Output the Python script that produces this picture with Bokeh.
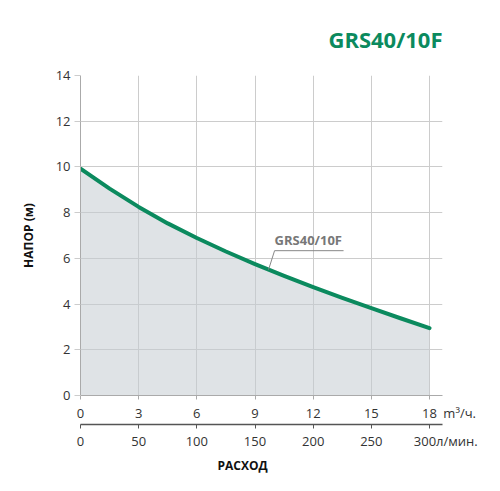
import numpy as np
from bokeh.plotting import figure
from bokeh.models import Range1d, LinearAxis, FixedTicker, Label, Title
from bokeh.embed import file_html
from bokeh.resources import INLINE

# Данные кривой насоса GRS40/10F
flow_m3h = [0, 1.5, 3, 4.5, 6, 7.5, 9, 10.5, 12, 13.5, 15, 16.5, 18]
head_m = [9.92, 9.05, 8.25, 7.53, 6.89, 6.30, 5.75, 5.23, 4.74, 4.27, 3.82, 3.38, 2.95]

x_ticks = [0, 3, 6, 9, 12, 15, 18]
lpm_ticks = [0, 50, 100, 150, 200, 250, 300]
y_ticks = [0, 2, 4, 6, 8, 10, 12, 14]

model_name = "GRS40/10F"
GREEN = "#0b8a5e"
FONT = "Open Sans"

x_max = 18.67
frame_w, frame_h = 362, 321
px_x = x_max / frame_w
px_y = 14 / frame_h

p = figure(width=492, height=483, output_backend="svg", toolbar_location=None,
           x_range=Range1d(0, x_max), y_range=Range1d(0, 14),
           x_axis_location=None, y_axis_location=None,
           min_border_left=80, min_border_right=50, min_border_top=74,
           min_border_bottom=88)
p.outline_line_color = None
p.extra_x_ranges = {"lpm": Range1d(0, x_max * 50 / 3)}

# заголовок
p.title.text = model_name
p.title.align = "right"
p.title.text_font = FONT
p.title.text_font_size = "22px"
p.title.text_font_style = "bold"
p.title.text_color = GREEN
p.title.standoff = 43

# оси
yax = LinearAxis(ticker=FixedTicker(ticks=y_ticks), axis_label="НАПОР (м)")
yax.axis_line_color = "#aaaaaa"
yax.major_tick_line_color = "#cccccc"
yax.major_tick_out = 6
yax.major_tick_in = 0
yax.minor_tick_line_color = None
yax.major_label_standoff = 4
yax.major_label_text_font = FONT
yax.major_label_text_font_size = "13px"
yax.major_label_text_color = "#333333"
yax.axis_label_text_font = FONT
yax.axis_label_text_font_size = "12px"
yax.axis_label_text_font_style = "bold"
yax.axis_label_text_color = "#111111"
yax.axis_label_standoff = 16
p.add_layout(yax, "left")

# единицы — в подписи последнего деления
xax = LinearAxis(ticker=FixedTicker(ticks=x_ticks))
xax.major_label_overrides = {18: "\u2003\u2003\u200318\u2002m³/ч."}
xax.axis_line_color = "#aaaaaa"
xax.major_tick_line_color = "#aaaaaa"
xax.major_tick_out = 4
xax.major_tick_in = 0
xax.minor_tick_line_color = None
xax.major_label_standoff = 4
xax.major_label_text_font = FONT
xax.major_label_text_font_size = "13px"
xax.major_label_text_color = "#333333"
p.add_layout(xax, "below")

lax = LinearAxis(x_range_name="lpm", ticker=FixedTicker(ticks=lpm_ticks))
lax.major_label_overrides = {300: "\u2003\u2003\u2002300л/мин."}
lax.axis_line_color = "#555555"
lax.axis_line_width = 1.5
lax.major_tick_line_color = "#555555"
lax.major_tick_out = 4
lax.major_tick_in = 0
lax.minor_tick_line_color = None
lax.major_label_standoff = 3
lax.major_label_text_font = FONT
lax.major_label_text_font_size = "13px"
lax.major_label_text_color = "#333333"
p.add_layout(lax, "below")

p.add_layout(Title(text="РАСХОД", align="left", offset=137, standoff=4,
                   text_font=FONT, text_font_size="12px", text_font_style="bold",
                   text_color="#111111"), "below")

# сетка
p.xgrid.ticker = FixedTicker(ticks=x_ticks)
p.ygrid.ticker = FixedTicker(ticks=y_ticks)
p.grid.grid_line_color = "#cccccc"
p.grid.grid_line_width = 1

# кривая
p.varea(x=flow_m3h, y1=0, y2=head_m, fill_color="#c5ccd2", fill_alpha=0.55)
p.line(flow_m3h, head_m, line_color=GREEN, line_width=4, line_cap="round",
       line_join="round")

# подпись кривой с выноской
ax0 = 9.7
ay0 = float(np.interp(ax0, flow_m3h, head_m))
lx = ax0 + 6 * px_x
ly = ay0 + 19 * px_y
p.segment(x0=[ax0, lx], y0=[ay0, ly], x1=[lx, lx + 69 * px_x], y1=[ly, ly],
          line_color="#888888", line_width=1)
p.add_layout(Label(x=lx, y=ly, y_offset=2, text=model_name, text_font=FONT,
                   text_font_size="13px", text_font_style="bold",
                   text_color="#777777", text_baseline="bottom"))

open("out.html", "w").write(file_html(p, INLINE))
